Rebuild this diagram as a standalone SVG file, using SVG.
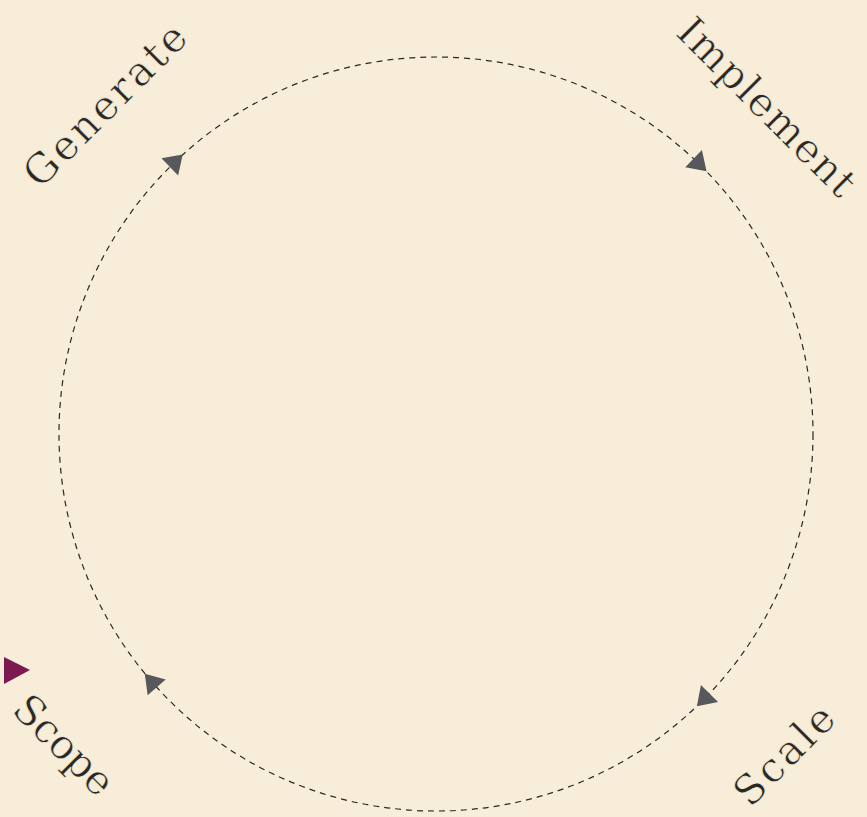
<svg xmlns="http://www.w3.org/2000/svg" xmlns:xlink="http://www.w3.org/1999/xlink" width="867" height="817" viewBox="0 0 867 817">
<style>
.lbl{font-family:"DejaVu Serif","Liberation Serif",serif;font-size:41px;fill:#2a2826;stroke:#f7edd8;stroke-width:0.7px;text-anchor:middle}
.ring{fill:none;stroke:#2a2826;stroke-width:1.2;stroke-dasharray:6 5}
</style>
<defs>
<path id="ah" d="M12,0 L-6,-12 L-6,12 Z" fill="#56585b"/>
</defs>
<rect width="867" height="817" fill="#f7edd8"/>
<g id="connectors">
<circle class="ring" cx="436" cy="434" r="377"/>
<use xlink:href="#ah" href="#ah" transform="translate(174.1,162.8) rotate(-44)"/>
<use xlink:href="#ah" href="#ah" transform="translate(697.9,162.8) rotate(44)"/>
<use xlink:href="#ah" href="#ah" transform="translate(705.3,697.8) rotate(134.4)"/>
<use xlink:href="#ah" href="#ah" transform="translate(152.7,682.8) rotate(228.7)"/>
</g>
<g id="generate">
<text class="lbl" transform="translate(115,115) rotate(-45)" textLength="212" lengthAdjust="spacing">Generate</text>
</g>
<g id="implement">
<text class="lbl" transform="translate(757,117) rotate(45)" textLength="234" lengthAdjust="spacing">Implement</text>
</g>
<g id="scale">
<text class="lbl" transform="translate(794,765) rotate(-45)" textLength="124" lengthAdjust="spacing">Scale</text>
</g>
<g id="scope">
<polygon points="4,657 30,670 4,684" fill="#7a1a50"/>
<text class="lbl" transform="translate(54,755) rotate(45)" textLength="124" lengthAdjust="spacing">Scope</text>
</g>
</svg>
